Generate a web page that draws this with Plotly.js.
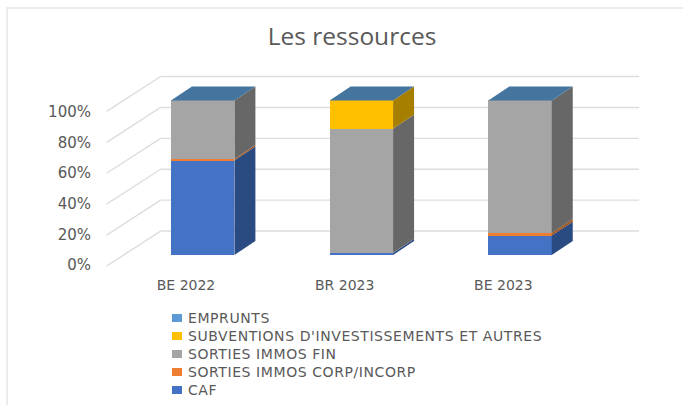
<!DOCTYPE html>
<html>
<head>
<meta charset="utf-8">
<script src="https://cdn.plot.ly/plotly-3.0.1.min.js"></script>
<style>
html,body{margin:0;padding:0;background:#fff}
.annotation-text{letter-spacing:0.58px}
</style>
</head>
<body>
<div id="chart" style="width:683px;height:405px"></div>
<script>
var categories = ["BE 2022", "BR 2023", "BE 2023"];
var caf = [61.2, 1.3, 12.6];
var corpIncorp = [1.0, 0.1, 1.7];
var immosFin = [37.8, 80.4, 85.7];
var subventions = [0, 18.2, 0];
var emprunts = [0, 0, 0];
var percentLabels = [0, 20, 40, 60, 80, 100];

var seriesNames = ["CAF", "SORTIES IMMOS CORP/INCORP", "SORTIES IMMOS FIN", "SUBVENTIONS D'INVESTISSEMENTS ET AUTRES", "EMPRUNTS"];
var seriesValues = [caf, corpIncorp, immosFin, subventions, emprunts];
var frontColors = ["#4472C4", "#ED7D31", "#A5A5A5", "#FFC000", "#5B9BD5"];
var sideColors = ["#2A4A82", "#A0561F", "#676767", "#A67F00", "#3C6E9A"];
var topColor = "#44759F";
var textColor = "#595959";
var gridColor = "#DDDDDD";
var fontName = "DejaVu Sans";

var barWidth = 0.4;
var depthX = 0.1323, depthY = 9;      // bar extrusion
var wallX = 0.34, floorFront = -7.1, floorBack = 15.5; // wall extrusion
var wallRight = 2.75, frontLeft = -0.605;

// plot-area box in pixels, used to place the hand-set legend
var plotL = 100, plotW = 550, plotB = 272, plotH = 212;
function paperX(px) { return (px - plotL) / plotW; }
function paperY(py) { return (plotB - py) / plotH; }

var traces = [];
seriesValues.forEach(function (vals, s) {
  traces.push({
    type: "bar", name: seriesNames[s], x: [0, 1, 2], y: vals, width: barWidth,
    marker: {color: frontColors[s], line: {width: 0}}, hoverinfo: "name+y", showlegend: false
  });
});

categories.forEach(function (c, i) {
  var base = 0, xr = i + barWidth / 2, xl = i - barWidth / 2;
  seriesValues.forEach(function (vals, s) {
    var v = vals[i];
    if (v > 0) {
      traces.push({
        type: "scatter", mode: "lines", showlegend: false, hoverinfo: "skip",
        x: [xr, xr + depthX, xr + depthX, xr, xr],
        y: [base, base + depthY, base + v + depthY, base + v, base],
        fill: "toself", fillcolor: sideColors[s], line: {width: 0, color: sideColors[s]}
      });
    }
    base += v;
  });
  traces.push({
    type: "scatter", mode: "lines", showlegend: false, hoverinfo: "skip",
    x: [xl, xr, xr + depthX, xl + depthX, xl],
    y: [base, base, base + depthY, base + depthY, base],
    fill: "toself", fillcolor: topColor, line: {width: 0, color: topColor}
  });
});

var shapes = [{
  type: "rect", xref: "paper", yref: "paper", layer: "below",
  x0: paperX(7), x1: 1.2, y0: -0.7, y1: paperY(8),
  line: {color: "#E6E6E6", width: 1.5}, fillcolor: "rgba(0,0,0,0)"
}];
percentLabels.forEach(function (p) {
  var yf = floorFront + p, yb = floorBack + p;
  shapes.push({type: "line", xref: "x", yref: "y", layer: "below",
    x0: frontLeft, y0: yf, x1: frontLeft + wallX, y1: yb, line: {color: gridColor, width: 1.4}});
  shapes.push({type: "line", xref: "x", yref: "y", layer: "below",
    x0: frontLeft + wallX, y0: yb, x1: wallRight, y1: yb, line: {color: gridColor, width: 1.4}});
});

// legend rows, top to bottom: reverse of the stacking order
var annotations = [];
seriesNames.forEach(function (name, s) {
  var rowY = 390 - 18 * s;
  shapes.push({type: "rect", xref: "paper", yref: "paper",
    x0: paperX(172), x1: paperX(182), y0: paperY(rowY - 4), y1: paperY(rowY + 4),
    fillcolor: frontColors[s], line: {width: 0}});
  annotations.push({xref: "paper", yref: "paper", x: paperX(186), y: paperY(rowY),
    xanchor: "left", yanchor: "middle", showarrow: false, text: name,
    font: {family: fontName, size: 14, color: textColor}});
});

var layout = {
  width: 683, height: 405,
  margin: {l: plotL, r: 683 - plotL - plotW, t: plotB - plotH, b: 405 - plotB, autoexpand: false},
  paper_bgcolor: "#FFFFFF", plot_bgcolor: "rgba(0,0,0,0)",
  barmode: "stack",
  showlegend: false,
  title: {text: "Les ressources", x: 352 / 683, xanchor: "center", y: 1 - 36 / 405, yanchor: "middle",
          font: {family: "Open Sans", size: 24.5, color: textColor}},
  xaxis: {
    range: [-0.647, 2.819], showgrid: false, zeroline: false, showline: false, ticks: "",
    tickmode: "array", tickvals: [-0.105, 0.895, 1.895], ticktext: categories, ticklabelstandoff: 3,
    tickfont: {family: fontName, size: 14, color: textColor}
  },
  yaxis: {
    range: [-11, 126.2], showgrid: false, zeroline: false, showline: false, ticks: "",
    tickmode: "array", ticklabelstandoff: 8,
    tickvals: percentLabels.map(function (p) { return -6.5 + p * 0.992; }),
    ticktext: percentLabels.map(function (p) { return p + "%"; }),
    tickfont: {family: fontName, size: 15, color: textColor}
  },
  shapes: shapes,
  annotations: annotations
};
Plotly.newPlot("chart", traces, layout, {displayModeBar: false, responsive: false});
</script>
</body>
</html>
